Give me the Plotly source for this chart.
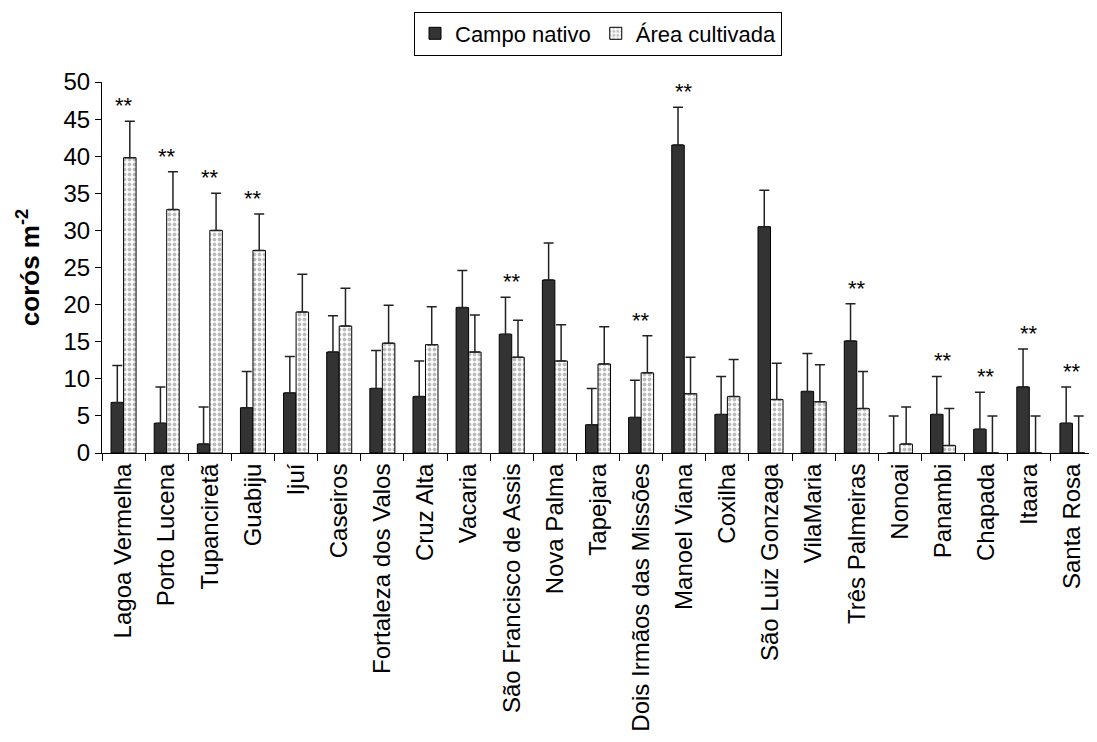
import plotly.graph_objects as go

categories = ["Lagoa Vermelha", "Porto Lucena", "Tupanciretã", "Guabiju", "Ijuí", "Caseiros",
              "Fortaleza dos Valos", "Cruz Alta", "Vacaria", "São Francisco de Assis", "Nova Palma",
              "Tapejara", "Dois Irmãos das Missões", "Manoel Viana", "Coxilha", "São Luiz Gonzaga",
              "VilaMaria", "Três Palmeiras", "Nonoai", "Panambi", "Chapada", "Itaara", "Santa Rosa"]

campo_nativo = [6.8, 4.0, 1.2, 6.1, 8.1, 13.6, 8.7, 7.6, 19.6, 16.0, 23.3, 3.8, 4.8, 41.5, 5.2, 30.5,
                8.3, 15.1, 0.0, 5.2, 3.2, 8.9, 4.0]
campo_err = [5.0, 4.9, 5.0, 4.9, 4.9, 4.9, 5.1, 4.8, 5.0, 5.0, 5.0, 4.9, 5.0, 5.1, 5.1, 4.9,
             5.1, 5.0, 5.0, 5.1, 5.0, 5.1, 4.9]

area_cultivada = [39.8, 32.8, 30.0, 27.3, 19.0, 17.1, 14.8, 14.6, 13.6, 12.9, 12.4, 12.0, 10.8, 8.0,
                  7.6, 7.2, 6.9, 6.0, 1.2, 1.0, 0.0, 0.0, 0.0]
area_err = [4.9, 5.1, 5.0, 4.9, 5.1, 5.1, 5.1, 5.1, 5.0, 5.0, 4.9, 5.0, 5.0, 4.9, 5.0, 4.9,
            5.0, 5.0, 5.0, 5.0, 5.0, 5.0, 5.0]

significant = ["Lagoa Vermelha", "Porto Lucena", "Tupanciretã", "Guabiju", "São Francisco de Assis",
               "Dois Irmãos das Missões", "Manoel Viana", "Três Palmeiras", "Panambi", "Chapada",
               "Itaara", "Santa Rosa"]

FONT = "Liberation Sans, Arial, sans-serif"

fig = go.Figure()
fig.add_trace(go.Bar(
    name="Campo nativo", x=categories, y=campo_nativo,
    marker=dict(color="#333333", line=dict(color="#000000", width=1)),
    error_y=dict(type="data", array=campo_err, arrayminus=[0] * len(campo_err), symmetric=False,
                 color="#222222", thickness=1.5, width=5),
))
fig.add_trace(go.Bar(
    name="Área cultivada", x=categories, y=area_cultivada,
    marker=dict(color="#ffffff", line=dict(color="#000000", width=1),
                pattern=dict(shape=".", fgcolor="#7a7a7a", bgcolor="#ffffff", size=5, solidity=0.45)),
    error_y=dict(type="data", array=area_err, arrayminus=[0] * len(area_err), symmetric=False,
                 color="#222222", thickness=1.5, width=5),
))

for i, c in enumerate(categories):
    if c in significant:
        top = max(campo_nativo[i] + campo_err[i], area_cultivada[i] + area_err[i])
        fig.add_annotation(x=c, y=top + 2.1, text="**", showarrow=False, yanchor="middle",
                           font=dict(size=22, color="#000000", family=FONT))

fig.update_layout(
    width=1089, height=734,
    margin=dict(l=94, r=3, t=74, b=289, autoexpand=False),
    paper_bgcolor="white", plot_bgcolor="white",
    barmode="group", bargap=0.42, bargroupgap=0,
    font=dict(family=FONT, color="#000000", size=22),
    showlegend=True,
    legend=dict(orientation="h", x=0.5, xanchor="center", y=1.19, yanchor="top",
                bordercolor="#000000", borderwidth=1, font=dict(size=22), itemwidth=30,
                tracegroupgap=0, bgcolor="white"),
)
fig.update_xaxes(
    type="category", tickson="boundaries", ticks="outside", ticklen=7, tickcolor="#000000",
    showline=True, linecolor="#000000", linewidth=1, tickangle=-90, automargin=False,
    tickfont=dict(size=24, family=FONT), showgrid=False,
)
fig.update_yaxes(
    range=[0, 50], dtick=5, ticks="outside", ticklen=6, tickcolor="#000000", automargin=False,
    showline=True, linecolor="#000000", linewidth=1, showgrid=False, zeroline=False,
    tickfont=dict(size=24, family=FONT),
    title=dict(text="<b>corós m<sup>-2</sup></b>", font=dict(size=26, family=FONT), standoff=16),
)

fig.write_html("out.html")
